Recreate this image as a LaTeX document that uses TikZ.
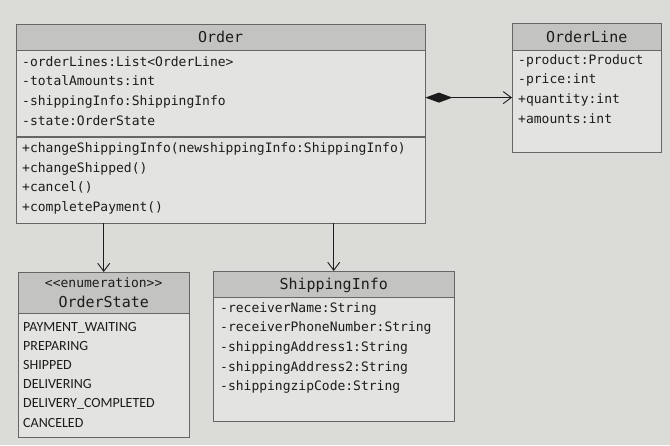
\documentclass[tikz,border=0pt]{standalone}
\usepackage{fontspec}
\setmonofont{DejaVu Sans Mono}
\newfontfamily\enumfont{Carlito}
\usetikzlibrary{arrows.meta, positioning}

\definecolor{paper}{HTML}{DBDBD8}
\definecolor{boxfill}{HTML}{E3E3E1}
\definecolor{headfill}{HTML}{C3C3C1}
\definecolor{frame}{HTML}{666666}
\definecolor{ink}{HTML}{1C1C1C}

\tikzset{
	classhead/.style={draw=frame, fill=headfill, inner sep=0pt, anchor=north west,
		text=ink, font=\ttfamily\fontsize{15}{20}\selectfont},
	headline/.style={text height=10.9pt, text depth=0pt},
	classbody/.style={draw=frame, fill=boxfill, inner sep=0pt, anchor=north west},
	members/.style={anchor=north west, inner sep=0pt, align=left, text=ink,
		font=\ttfamily\fontsize{13}{19.6}\selectfont},
	literals/.style={members, font=\enumfont\fontsize{14}{19.2}\selectfont},
	assoc/.style={draw=ink, line width=0.9pt, -{Straight Barb[length=8pt,width=12pt]}},
	compose/.style={draw=ink, line width=0.9pt,
		arrows={Diamond[length=27pt,width=10pt]-Straight Barb[length=8pt,width=12pt]}}
}

\begin{document}
\begin{tikzpicture}[x=1pt, y=-1pt]
	\fill [paper] (0,0) rectangle (670,445);

	% Order
	\node [classhead, headline, minimum width=409pt, minimum height=26pt]
	(order-head) at (16,24) {Order};
	\node [classbody, minimum width=409pt, minimum height=86pt]
	(order-attr) at (order-head.south west) {};
	\node [classbody, minimum width=409pt, minimum height=86pt]
	(order-ops) at (order-attr.south west) {};
	\node [members] (order-attr-text) at ([shift={(6,2)}]order-attr.north west)
	{\strut-orderLines:List<OrderLine>\\
		-totalAmounts:int\\
		-shippingInfo:ShippingInfo\\
		-state:OrderState};
	\node [members] (order-ops-text) at ([shift={(6,2)}]order-ops.north west)
	{\strut+changeShippingInfo(newshippingInfo:ShippingInfo)\\
		+changeShipped()\\
		+cancel()\\
		+completePayment()};

	% OrderLine
	\node [classhead, headline, minimum width=149pt, minimum height=27pt]
	(orderline-head) at (512,23) {OrderLine};
	\node [classbody, minimum width=149pt, minimum height=102pt]
	(orderline-attr) at (orderline-head.south west) {};
	\node [members] (orderline-text) at ([shift={(6,0)}]orderline-attr.north west)
	{\strut-product:Product\\
		-price:int\\
		+quantity:int\\
		+amounts:int};

	% OrderState
	\node [classhead, align=center, minimum width=171pt, minimum height=41pt]
	(orderstate-head) at (18,272)
	{{\fontsize{13}{20}\selectfont <<enumeration>>}\\OrderState};
	\node [classbody, minimum width=171pt, minimum height=124pt]
	(orderstate-body) at (orderstate-head.south west) {};
	\node [literals] (orderstate-text) at ([shift={(5,4)}]orderstate-body.north west)
	{\strut PAYMENT\_WAITING\\
		PREPARING\\
		SHIPPED\\
		DELIVERING\\
		DELIVERY\_COMPLETED\\
		CANCELED};

	% ShippingInfo
	\node [classhead, headline, minimum width=241pt, minimum height=26pt]
	(shipping-head) at (213,271) {ShippingInfo};
	\node [classbody, minimum width=241pt, minimum height=124pt]
	(shipping-body) at (shipping-head.south west) {};
	\node [members] (shipping-text) at ([shift={(7,1)}]shipping-body.north west)
	{\strut-receiverName:String\\
		-receiverPhoneNumber:String\\
		-shippingAddress1:String\\
		-shippingAddress2:String\\
		-shippingzipCode:String};

	% relations
	\draw [compose] ([yshift=-4pt]order-attr.east)
	-- ([yshift=-4pt]order-attr.east -| orderline-attr.west);
	\draw [assoc] (orderstate-head.north |- order-ops.south) -- (orderstate-head.north);
	\draw [assoc] (shipping-head.north |- order-ops.south) -- (shipping-head.north);
\end{tikzpicture}
\end{document}
